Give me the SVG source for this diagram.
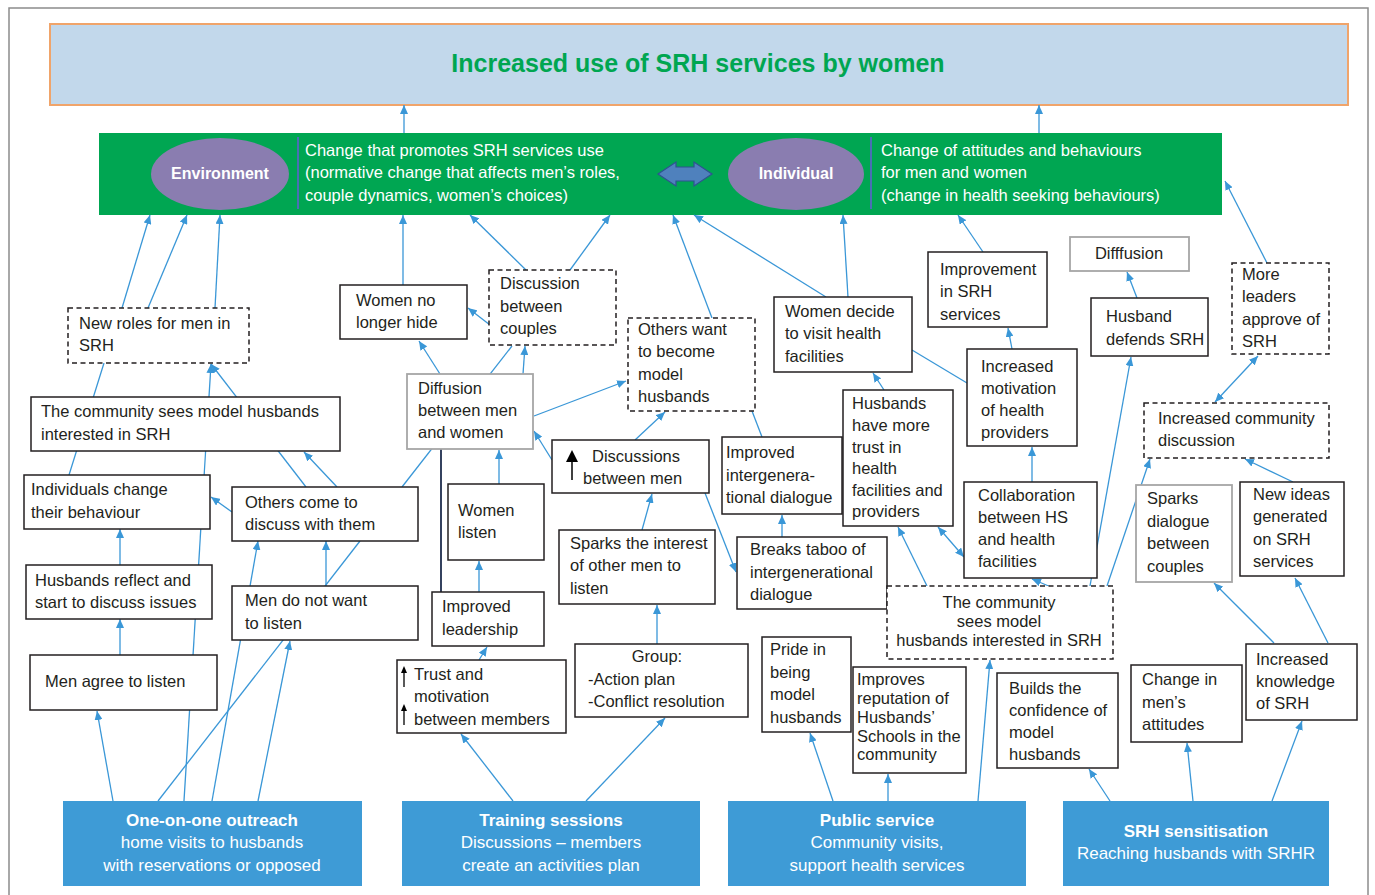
<svg xmlns="http://www.w3.org/2000/svg" width="1375" height="895" viewBox="0 0 1375 895">
  <style>
    .t { font-family: "Liberation Sans", Arial, sans-serif; font-size: 16.5px; fill: #231f20; }
    .w { font-family: "Liberation Sans", Arial, sans-serif; font-size: 16.5px; fill: #ffffff; }
    .wb { font-family: "Liberation Sans", Arial, sans-serif; font-size: 17px; fill: #ffffff; }
    .b { font-weight: bold; }
    .mid { text-anchor: middle; }
    .box { fill: #ffffff; stroke: #231f20; stroke-width: 1.5; }
    .dash { fill: #ffffff; stroke: #231f20; stroke-width: 1.5; stroke-dasharray: 5 3.5; }
    .gray { fill: #ffffff; stroke: #a6a6a6; stroke-width: 1.8; }
    .src { fill: #3e9bd6; }
    .c { stroke: #3a97d7; stroke-width: 1.3; fill: none; }
    .a { marker-end: url(#arr); }
    .aa { marker-start: url(#arr); marker-end: url(#arr); }
  </style>
  <defs>
    <marker id="arr" markerUnits="userSpaceOnUse" markerWidth="9" markerHeight="8" refX="9" refY="4" orient="auto-start-reverse">
      <path d="M0,0 L9,4 L0,8 z" fill="#3a97d7"/>
    </marker>
  </defs>

  <rect x="0" y="0" width="1375" height="895" fill="#ffffff"/>
  <rect x="9" y="8" width="1359" height="900" fill="none" stroke="#8c8c8c" stroke-width="1.5"/>

  <!-- goal banner -->
  <g id="goal">
    <rect x="50" y="24" width="1298" height="81" fill="#c2d8eb" stroke="#f0a46a" stroke-width="2"/>
    <text x="698" y="72" class="mid b" style="font-family:'Liberation Sans', Arial, sans-serif; font-size:25px; fill:#00a651;">Increased use of SRH services by women</text>
  </g>

  <!-- change levels bar -->
  <g id="levels">
    <rect x="99" y="133" width="1123" height="82" fill="#00a652"/>
    <ellipse cx="220" cy="174" rx="69" ry="36" fill="#8a7db0"/>
    <text x="220" y="179" class="w b mid" style="font-size:16px">Environment</text>
    <line x1="298" y1="137" x2="298" y2="209" stroke="#4a6fb5" stroke-width="2"/>
    <text class="w" x="305" y="156">Change that promotes SRH services use</text>
    <text class="w" x="305" y="178">(normative change that affects men’s roles,</text>
    <text class="w" x="305" y="201">couple dynamics, women’s choices)</text>
    <polygon points="658,174 676,162 676,167 694,167 694,162 712,174 694,186 694,181 676,181 676,186" fill="#4f81bd" stroke="#2f528f" stroke-width="1.2"/>
    <ellipse cx="796" cy="174" rx="68" ry="36" fill="#8a7db0"/>
    <text x="796" y="179" class="w b mid" style="font-size:16px">Individual</text>
    <line x1="871" y1="137" x2="871" y2="209" stroke="#4a6fb5" stroke-width="2"/>
    <text class="w" x="881" y="156">Change of attitudes and behaviours</text>
    <text class="w" x="881" y="178">for men and women</text>
    <text class="w" x="881" y="201">(change in health seeking behaviours)</text>
  </g>

  <!-- connectors -->
  <g id="connectors">
    <line class="c a" x1="404" y1="133" x2="404" y2="105"/>
    <line class="c a" x1="1039" y1="133" x2="1039" y2="105"/>

    <line class="c a" x1="122" y1="308" x2="150" y2="215"/>
    <line class="c a" x1="148" y1="308" x2="187" y2="215"/>
    <line class="c a" x1="215" y1="308" x2="220" y2="215"/>
    <line class="c a" x1="403" y1="285" x2="403" y2="215"/>
    <line class="c a" x1="526" y1="270" x2="470" y2="215"/>
    <line class="c a" x1="570" y1="270" x2="610" y2="215"/>
    <line class="c a" x1="712" y1="318" x2="673" y2="215"/>
    <line class="c a" x1="826" y1="297" x2="694" y2="215"/>
    <line class="c a" x1="848" y1="297" x2="843" y2="215"/>
    <line class="c a" x1="983" y1="252" x2="958" y2="215"/>
    <line class="c a" x1="1267" y1="263" x2="1225" y2="181"/>

    <line class="c" x1="69" y1="475" x2="104" y2="363"/>
    <line class="c a" x1="184" y1="801" x2="211" y2="364"/>
    <line class="c a" x1="306" y1="487" x2="211" y2="364"/>
    <line class="c a" x1="337" y1="487" x2="304" y2="452"/>
    <line class="c" x1="402" y1="487" x2="512" y2="346"/>
    <line class="c a" x1="232" y1="512" x2="211" y2="497"/>
    <line class="c a" x1="120" y1="565" x2="120" y2="529"/>
    <line class="c a" x1="120" y1="655" x2="120" y2="619"/>
    <line class="c a" x1="113" y1="801" x2="97" y2="711"/>
    <line class="c a" x1="212" y1="801" x2="258" y2="541"/>
    <line class="c a" x1="326" y1="586" x2="326" y2="541"/>
    <line class="c" x1="158" y1="801" x2="360" y2="541"/>
    <line class="c a" x1="258" y1="801" x2="290" y2="641"/>

    <line x1="441" y1="449" x2="441" y2="592" stroke="#1f2d4d" stroke-width="1.8"/>
    <line class="c a" x1="513" y1="801" x2="461" y2="734"/>
    <line class="c a" x1="586" y1="801" x2="665" y2="718"/>
    <line class="c a" x1="479" y1="660" x2="487" y2="647"/>
    <line class="c a" x1="479" y1="592" x2="479" y2="561"/>
    <line class="c a" x1="499" y1="484" x2="499" y2="450"/>
    <line class="c a" x1="657" y1="644" x2="657" y2="605"/>
    <line class="c a" x1="642" y1="530" x2="652" y2="494"/>
    <line class="c a" x1="552" y1="460" x2="534" y2="431"/>
    <line class="c a" x1="635" y1="440" x2="665" y2="412"/>
    <line class="c a" x1="534" y1="416" x2="626" y2="381"/>
    <line class="c a" x1="440" y1="374" x2="419" y2="341"/>
    <line class="c a" x1="490" y1="325" x2="468" y2="308"/>
    <line class="c a" x1="523" y1="374" x2="525" y2="346"/>
    <line class="c" x1="752" y1="411" x2="762" y2="437"/>
    <line class="c a" x1="705" y1="493" x2="736" y2="572"/>
    <line class="c a" x1="782" y1="537" x2="782" y2="515"/>
    <line class="c a" x1="884" y1="390" x2="873" y2="373"/>
    <line class="c" x1="912" y1="350" x2="967" y2="383"/>
    <line class="c a" x1="1012" y1="349" x2="1008" y2="328"/>
    <line class="c a" x1="1032" y1="482" x2="1032" y2="447"/>
    <line class="c aa" x1="938" y1="527" x2="964" y2="557"/>
    <line class="c a" x1="927" y1="586" x2="898" y2="527"/>
    <line class="c a" x1="1070" y1="595" x2="1032" y2="579"/>
    <line class="c a" x1="1090" y1="586" x2="1131" y2="357"/>
    <line class="c a" x1="1107" y1="586" x2="1150" y2="459"/>
    <line class="c a" x1="1137" y1="298" x2="1127" y2="272"/>
    <line class="c aa" x1="1215" y1="402" x2="1258" y2="356"/>
    <line class="c a" x1="1293" y1="482" x2="1245" y2="459"/>
    <line class="c a" x1="1274" y1="643" x2="1214" y2="583"/>
    <line class="c a" x1="1328" y1="643" x2="1295" y2="578"/>
    <line class="c a" x1="1110" y1="801" x2="1089" y2="769"/>
    <line class="c a" x1="1193" y1="801" x2="1187" y2="743"/>
    <line class="c a" x1="1272" y1="801" x2="1302" y2="721"/>
    <line class="c a" x1="833" y1="801" x2="810" y2="733"/>
    <line class="c a" x1="888" y1="801" x2="888" y2="774"/>
    <line class="c a" x1="978" y1="801" x2="990" y2="660"/>
  </g>

  <!-- outcome nodes -->
  <g id="new-roles">
    <rect class="dash" x="68" y="308" width="181" height="55"/>
    <text class="t" x="79" y="329">New roles for men in</text>
    <text class="t" x="79" y="351">SRH</text>
  </g>
  <g id="community-sees">
    <rect class="box" x="31" y="397" width="309" height="54"/>
    <text class="t" x="41" y="417">The community sees model husbands</text>
    <text class="t" x="41" y="440">interested in SRH</text>
  </g>
  <g id="women-no-longer-hide">
    <rect class="box" x="340" y="285" width="127" height="54"/>
    <text class="t" x="356" y="306">Women no</text>
    <text class="t" x="356" y="328">longer hide</text>
  </g>
  <g id="discussion-couples">
    <rect class="dash" x="489" y="270" width="127" height="75"/>
    <text class="t" x="500" y="289">Discussion</text>
    <text class="t" x="500" y="312">between</text>
    <text class="t" x="500" y="334">couples</text>
  </g>
  <g id="diffusion-men-women">
    <rect class="gray" x="407" y="374" width="126" height="75"/>
    <text class="t" x="418" y="394">Diffusion</text>
    <text class="t" x="418" y="416">between men</text>
    <text class="t" x="418" y="438">and women</text>
  </g>
  <g id="others-want">
    <rect class="dash" x="628" y="318" width="127" height="93"/>
    <text class="t" x="638" y="335">Others want</text>
    <text class="t" x="638" y="357">to become</text>
    <text class="t" x="638" y="380">model</text>
    <text class="t" x="638" y="402">husbands</text>
  </g>
  <g id="discussions-men">
    <rect class="box" x="552" y="440" width="157" height="53"/>
    <line x1="572" y1="480" x2="572" y2="459" stroke="#000" stroke-width="1.5"/>
    <polygon points="566,462 572,450 578,462" fill="#000"/>
    <text class="t" x="592" y="462">Discussions</text>
    <text class="t" x="583" y="484">between men</text>
  </g>
  <g id="women-listen">
    <rect class="box" x="448" y="484" width="96" height="76"/>
    <text class="t" x="458" y="516">Women</text>
    <text class="t" x="458" y="538">listen</text>
  </g>
  <g id="improved-leadership">
    <rect class="box" x="432" y="592" width="112" height="54"/>
    <text class="t" x="442" y="612">Improved</text>
    <text class="t" x="442" y="635">leadership</text>
  </g>
  <g id="trust-motivation">
    <rect class="box" x="397" y="660" width="169" height="73"/>
    <line x1="404" y1="687" x2="404" y2="671" stroke="#000" stroke-width="1.3"/>
    <polygon points="401,673 404,666 407,673" fill="#000"/>
    <line x1="404" y1="725" x2="404" y2="709" stroke="#000" stroke-width="1.3"/>
    <polygon points="401,711 404,704 407,711" fill="#000"/>
    <text class="t" x="414" y="680">Trust and</text>
    <text class="t" x="414" y="702">motivation</text>
    <text class="t" x="414" y="725">between members</text>
  </g>
  <g id="sparks-interest">
    <rect class="box" x="559" y="530" width="156" height="74"/>
    <text class="t" x="570" y="549">Sparks the interest</text>
    <text class="t" x="570" y="571">of other men to</text>
    <text class="t" x="570" y="594">listen</text>
  </g>
  <g id="group">
    <rect class="box" x="575" y="644" width="173" height="73"/>
    <text class="t mid" x="657" y="662">Group:</text>
    <text class="t" x="588" y="685">-Action plan</text>
    <text class="t" x="588" y="707">-Conflict resolution</text>
  </g>
  <g id="intergenerational-dialogue">
    <rect class="box" x="722" y="437" width="120" height="77"/>
    <text class="t" x="726" y="458">Improved</text>
    <text class="t" x="726" y="481">intergenera-</text>
    <text class="t" x="726" y="503">tional dialogue</text>
  </g>
  <g id="breaks-taboo">
    <rect class="box" x="737" y="537" width="150" height="72"/>
    <text class="t" x="750" y="555">Breaks taboo of</text>
    <text class="t" x="750" y="578">intergenerational</text>
    <text class="t" x="750" y="600">dialogue</text>
  </g>
  <g id="women-decide">
    <rect class="box" x="774" y="297" width="138" height="75"/>
    <text class="t" x="785" y="317">Women decide</text>
    <text class="t" x="785" y="339">to visit health</text>
    <text class="t" x="785" y="362">facilities</text>
  </g>
  <g id="husbands-trust">
    <rect class="box" x="843" y="390" width="110" height="136"/>
    <text class="t" x="852" y="409">Husbands</text>
    <text class="t" x="852" y="431">have more</text>
    <text class="t" x="852" y="453">trust in</text>
    <text class="t" x="852" y="474">health</text>
    <text class="t" x="852" y="496">facilities and</text>
    <text class="t" x="852" y="517">providers</text>
  </g>
  <g id="improvement-srh">
    <rect class="box" x="928" y="252" width="119" height="75"/>
    <text class="t" x="940" y="275">Improvement</text>
    <text class="t" x="940" y="297">in SRH</text>
    <text class="t" x="940" y="320">services</text>
  </g>
  <g id="provider-motivation">
    <rect class="box" x="967" y="349" width="110" height="97"/>
    <text class="t" x="981" y="372">Increased</text>
    <text class="t" x="981" y="394">motivation</text>
    <text class="t" x="981" y="416">of health</text>
    <text class="t" x="981" y="438">providers</text>
  </g>
  <g id="collaboration">
    <rect class="box" x="964" y="482" width="133" height="96"/>
    <text class="t" x="978" y="501">Collaboration</text>
    <text class="t" x="978" y="523">between HS</text>
    <text class="t" x="978" y="545">and health</text>
    <text class="t" x="978" y="567">facilities</text>
  </g>
  <g id="community-sees-2">
    <rect class="dash" x="887" y="586" width="226" height="73"/>
    <text class="t mid" x="999" y="608">The community</text>
    <text class="t mid" x="999" y="627">sees model</text>
    <text class="t mid" x="999" y="646">husbands interested in SRH</text>
  </g>
  <g id="diffusion">
    <rect class="gray" x="1070" y="237" width="119" height="34"/>
    <text class="t mid" x="1129" y="259">Difffusion</text>
  </g>
  <g id="husband-defends">
    <rect class="box" x="1091" y="298" width="117" height="58"/>
    <text class="t" x="1106" y="322">Husband</text>
    <text class="t" x="1106" y="345">defends SRH</text>
  </g>
  <g id="more-leaders">
    <rect class="dash" x="1232" y="263" width="97" height="91"/>
    <text class="t" x="1242" y="280">More</text>
    <text class="t" x="1242" y="302">leaders</text>
    <text class="t" x="1242" y="325">approve of</text>
    <text class="t" x="1242" y="347">SRH</text>
  </g>
  <g id="community-discussion">
    <rect class="dash" x="1144" y="403" width="185" height="55"/>
    <text class="t" x="1158" y="424">Increased community</text>
    <text class="t" x="1158" y="446">discussion</text>
  </g>
  <g id="sparks-dialogue">
    <rect class="gray" x="1136" y="485" width="96" height="97"/>
    <text class="t" x="1147" y="504">Sparks</text>
    <text class="t" x="1147" y="527">dialogue</text>
    <text class="t" x="1147" y="549">between</text>
    <text class="t" x="1147" y="572">couples</text>
  </g>
  <g id="new-ideas">
    <rect class="box" x="1240" y="482" width="104" height="94"/>
    <text class="t" x="1253" y="500">New ideas</text>
    <text class="t" x="1253" y="522">generated</text>
    <text class="t" x="1253" y="545">on SRH</text>
    <text class="t" x="1253" y="567">services</text>
  </g>
  <g id="pride">
    <rect class="box" x="762" y="637" width="89" height="95"/>
    <text class="t" x="770" y="655">Pride in</text>
    <text class="t" x="770" y="678">being</text>
    <text class="t" x="770" y="700">model</text>
    <text class="t" x="770" y="723">husbands</text>
  </g>
  <g id="reputation">
    <rect class="box" x="853" y="667" width="113" height="106"/>
    <text class="t" x="857" y="685">Improves</text>
    <text class="t" x="857" y="704">reputation of</text>
    <text class="t" x="857" y="723">Husbands’</text>
    <text class="t" x="857" y="742">Schools in the</text>
    <text class="t" x="857" y="760">community</text>
  </g>
  <g id="confidence">
    <rect class="box" x="997" y="673" width="121" height="95"/>
    <text class="t" x="1009" y="694">Builds the</text>
    <text class="t" x="1009" y="716">confidence of</text>
    <text class="t" x="1009" y="738">model</text>
    <text class="t" x="1009" y="760">husbands</text>
  </g>
  <g id="mens-attitudes">
    <rect class="box" x="1131" y="665" width="111" height="77"/>
    <text class="t" x="1142" y="685">Change in</text>
    <text class="t" x="1142" y="708">men’s</text>
    <text class="t" x="1142" y="730">attitudes</text>
  </g>
  <g id="knowledge">
    <rect class="box" x="1246" y="644" width="111" height="76"/>
    <text class="t" x="1256" y="665">Increased</text>
    <text class="t" x="1256" y="687">knowledge</text>
    <text class="t" x="1256" y="709">of SRH</text>
  </g>
  <g id="individuals-change">
    <rect class="box" x="24" y="475" width="186" height="54"/>
    <text class="t" x="31" y="495">Individuals change</text>
    <text class="t" x="31" y="518">their behaviour</text>
  </g>
  <g id="others-come">
    <rect class="box" x="232" y="487" width="186" height="54"/>
    <text class="t" x="245" y="508">Others come to</text>
    <text class="t" x="245" y="530">discuss with them</text>
  </g>
  <g id="husbands-reflect">
    <rect class="box" x="26" y="565" width="186" height="54"/>
    <text class="t" x="35" y="586">Husbands reflect and</text>
    <text class="t" x="35" y="608">start to discuss issues</text>
  </g>
  <g id="men-do-not-listen">
    <rect class="box" x="232" y="586" width="186" height="54"/>
    <text class="t" x="245" y="606">Men do not want</text>
    <text class="t" x="245" y="629">to listen</text>
  </g>
  <g id="men-agree">
    <rect class="box" x="30" y="655" width="187" height="55"/>
    <text class="t" x="45" y="687">Men agree to listen</text>
  </g>

  <!-- activities -->
  <g id="outreach">
    <rect class="src" x="63" y="801" width="299" height="85"/>
    <text class="wb b mid" x="212" y="826">One-on-one outreach</text>
    <text class="wb mid" x="212" y="848">home visits to husbands</text>
    <text class="wb mid" x="212" y="871">with reservations or opposed</text>
  </g>
  <g id="training">
    <rect class="src" x="402" y="801" width="298" height="85"/>
    <text class="wb b mid" x="551" y="826">Training sessions</text>
    <text class="wb mid" x="551" y="848">Discussions – members</text>
    <text class="wb mid" x="551" y="871">create an activities plan</text>
  </g>
  <g id="public-service">
    <rect class="src" x="728" y="801" width="298" height="85"/>
    <text class="wb b mid" x="877" y="826">Public service</text>
    <text class="wb mid" x="877" y="848">Community visits,</text>
    <text class="wb mid" x="877" y="871">support health services</text>
  </g>
  <g id="sensitisation">
    <rect class="src" x="1063" y="801" width="266" height="85"/>
    <text class="wb b mid" x="1196" y="837">SRH sensitisation</text>
    <text class="wb mid" x="1196" y="859">Reaching husbands with SRHR</text>
  </g>
</svg>
